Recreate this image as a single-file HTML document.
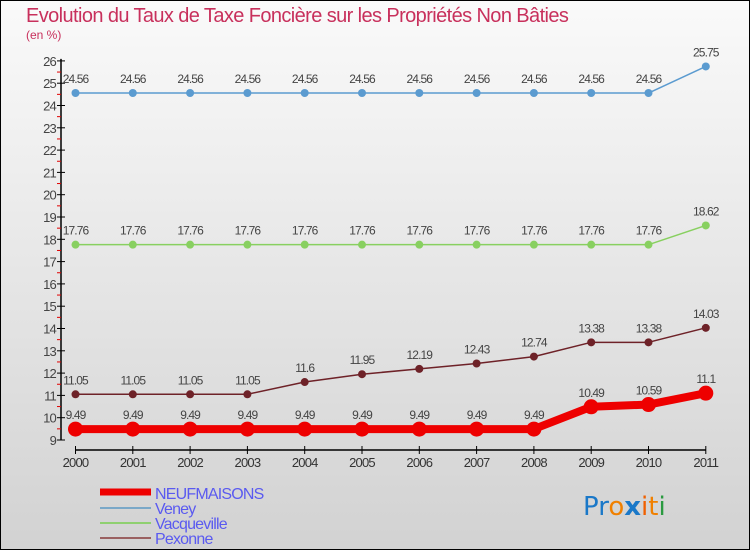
<!DOCTYPE html>
<html><head><meta charset="utf-8"><style>
html,body{margin:0;padding:0}
body{width:750px;height:550px;overflow:hidden;font-family:"Liberation Sans",sans-serif}
</style></head><body>
<svg id="chart" width="750" height="550" xmlns="http://www.w3.org/2000/svg">
<defs>
<linearGradient id="bg" x1="0" y1="0" x2="0" y2="1"><stop offset="0" stop-color="#fafafa"/><stop offset="1" stop-color="#d2d2d2"/></linearGradient>
</defs>
<rect x="0.5" y="0.5" width="749" height="549" fill="url(#bg)" stroke="#000"/>
<text x="26" y="22" font-size="20" fill="#c8305c" letter-spacing="-0.6">Evolution du Taux de Taxe Foncière sur les Propriétés Non Bâties</text>
<text x="26" y="39" font-size="12" fill="#c8305c">(en %)</text>
<g id="axes"></g>
<g id="series"></g>
<g id="legend">
<line x1="100" y1="492" x2="151" y2="492" stroke="#ee0000" stroke-width="7"/>
<text x="155" y="499" font-size="16" fill="#5a5af0" letter-spacing="-0.8">NEUFMAISONS</text>
<line x1="100" y1="508" x2="151" y2="508" stroke="#7aa8c8" stroke-width="2"/>
<text x="155" y="514" font-size="16" fill="#5a5af0" letter-spacing="-0.8">Veney</text>
<line x1="100" y1="523" x2="151" y2="523" stroke="#8fd070" stroke-width="2"/>
<text x="155" y="529" font-size="16" fill="#5a5af0" letter-spacing="-0.8">Vacqueville</text>
<line x1="100" y1="538" x2="151" y2="538" stroke="#9a6060" stroke-width="2"/>
<text x="155" y="544" font-size="16" fill="#5a5af0" letter-spacing="-0.8">Pexonne</text>
</g>
<g font-size="26" font-family="DejaVu Sans, sans-serif">
<text x="583" y="515"><tspan fill="#1a78c8">Pr</tspan><tspan fill="#f08000">o</tspan><tspan fill="#1a78c8" font-weight="bold">x</tspan><tspan fill="#f06000">i</tspan><tspan fill="#f08000">t</tspan><tspan fill="#2a9a40">i</tspan></text>
</g>
</svg>
<script>
const years=["2000","2001","2002","2003","2004","2005","2006","2007","2008","2009","2010","2011"];
const yTicks=[9,10,11,12,13,14,15,16,17,18,19,20,21,22,23,24,25,26];
const neufmaisons=[9.49,9.49,9.49,9.49,9.49,9.49,9.49,9.49,9.49,10.49,10.59,11.1];
const veney=[24.56,24.56,24.56,24.56,24.56,24.56,24.56,24.56,24.56,24.56,24.56,25.75];
const vacqueville=[17.76,17.76,17.76,17.76,17.76,17.76,17.76,17.76,17.76,17.76,17.76,18.62];
const pexonne=[11.05,11.05,11.05,11.05,11.6,11.95,12.19,12.43,12.74,13.38,13.38,14.03];
const NS="http://www.w3.org/2000/svg";
const x=i=>75.5+i*57.3;
const y=v=>440-(v-9)*22.3;
function mk(tag,attrs,parent){const e=document.createElementNS(NS,tag);for(const k in attrs)e.setAttribute(k,attrs[k]);parent.appendChild(e);return e;}
const ax=document.getElementById('axes');
const yl=mk('line',{x1:61,y1:y(26)-2,x2:61,y2:y(9),stroke:'#000','stroke-width':1.5},ax);


const xl=mk('line',{x1:x(0),y1:450,x2:x(11),y2:450,stroke:'#000','stroke-width':1.5},ax);


yTicks.forEach((t,i)=>{
  mk('line',{x1:57,y1:y(t),x2:65,y2:y(t),stroke:'#000'},ax);
  if(i<yTicks.length-1)mk('line',{x1:57,y1:y(t+0.5),x2:61,y2:y(t+0.5),stroke:'#e00000'},ax);
  const tx=mk('text',{x:56,y:y(t)+5,'font-size':13,'text-anchor':'end',fill:'#444','letter-spacing':'-0.8'},ax);
  tx.textContent=t;
  
  
});
years.forEach((yr,i)=>{
  mk('line',{x1:x(i),y1:446,x2:x(i),y2:454,stroke:'#000'},ax);
  const tx=mk('text',{x:x(i),y:467,'font-size':13,'text-anchor':'middle',fill:'#333','letter-spacing':'-0.8'},ax);
  tx.textContent=yr;
  
  
});
const sg=document.getElementById('series');
function series(name,vals,color,w,r){
  const g=mk('g',{},sg);
  
  
  mk('polyline',{points:vals.map((v,i)=>x(i)+','+y(v)).join(' '),fill:'none',stroke:color,'stroke-width':w,'stroke-linejoin':'round'},g);
  vals.forEach((v,i)=>{
    const c=mk('circle',{cx:x(i),cy:y(v),r:r,fill:color},g);
    
    
    const t=mk('text',{x:x(i),y:y(v)-10,'font-size':12,'text-anchor':'middle',fill:'#444','letter-spacing':'-0.9'},g);
    t.textContent=v;
    
    
  });
}
series('veney-line',veney,'#5b9bd0',1.5,4);
series('vacqueville-line',vacqueville,'#88d060',1.5,4);
series('pexonne-line',pexonne,'#6e2228',1.5,4);
series('neufmaisons-line',neufmaisons,'#ee0000',8,7.5);
</script>
</body></html>
